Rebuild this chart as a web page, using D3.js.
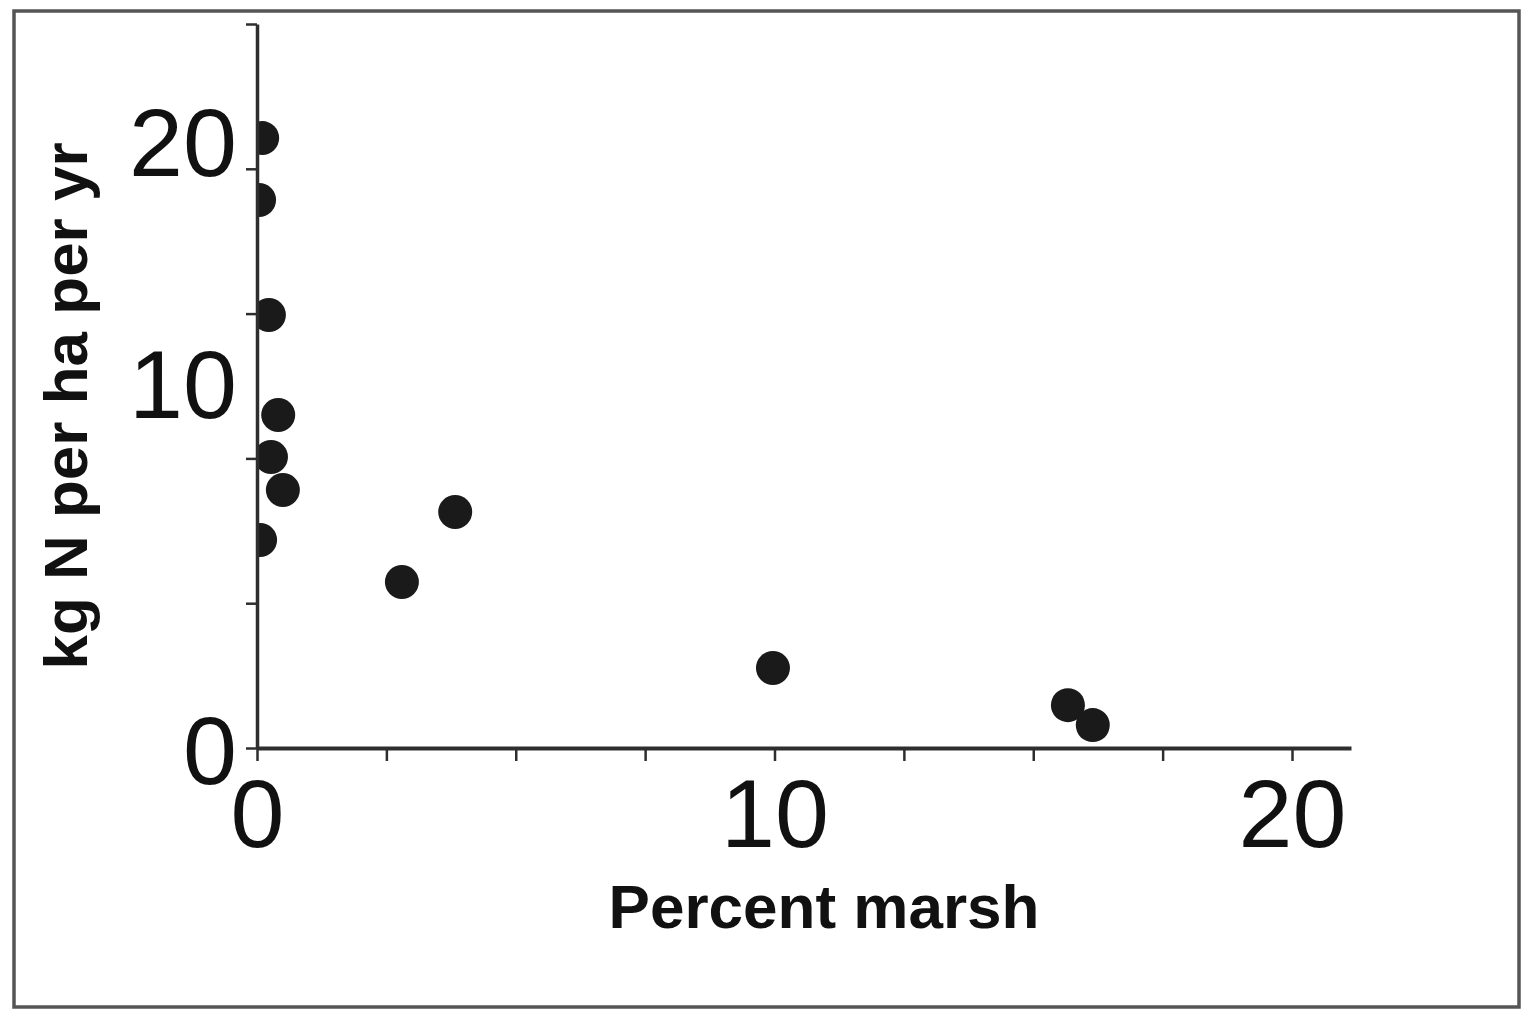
<!DOCTYPE html>
<html>
<head>
<meta charset="utf-8">
<script src="https://cdn.jsdelivr.net/npm/d3@7"></script>
<style>
  html, body { margin: 0; padding: 0; background: #fff; }
  svg { display: block; }
</style>
</head>
<body>
<svg id="chart" width="1524" height="1010"></svg>
<script>
// ---- data ----
const percentMarsh = [0.10, 0.04, 0.23, 0.41, 0.27, 0.50, 0.06, 3.83, 2.80, 9.97, 15.67, 16.15];
const kgNPerHa     = [21.06, 18.92, 14.95, 11.50, 10.05, 8.91, 7.18, 8.15, 5.73, 2.76, 1.48, 0.79];
const xTicks       = [0, 2.5, 5, 7.5, 10, 12.5, 15, 17.5, 20];
const xTickLabels  = [0, 10, 20];
const yTicks       = [0, 5, 10, 15, 20, 25];
const yTickLabels  = [0, 10, 20];
const xTitle = "Percent marsh";
const yTitle = "kg N per ha per yr";

// ---- layout / style ----
const svg = d3.select("#chart");
const X0 = 257, X1 = 1351, Y0 = 748, Y1 = 24;
const ink = "#1a1a1a";
const axisColor = "#2e2e2e";
// the reference places its y labels above their ticks
const yLabelShift = {0: 0, 10: -76, 20: -28};

const x = d3.scaleLinear().domain([0, 21.14]).range([X0, X1]);
const y = d3.scaleLinear().domain([0, 25]).range([Y0, Y1]);

// outer frame
svg.append("rect")
  .attr("x", 14).attr("y", 11).attr("width", 1505).attr("height", 996)
  .attr("fill", "none").attr("stroke", "#555").attr("stroke-width", 3.5);

// clip for points (plot area starts at the y axis)
svg.append("clipPath").attr("id", "plotClip")
  .append("rect").attr("x", X0).attr("y", 0).attr("width", X1 - X0 + 40).attr("height", Y0);

const pts = percentMarsh.map((v, i) => ({x: v, y: kgNPerHa[i]}));
svg.append("g").attr("clip-path", "url(#plotClip)")
  .selectAll("circle").data(pts).join("circle")
  .attr("cx", d => x(d.x)).attr("cy", d => y(d.y))
  .attr("r", 17).attr("fill", ink);

// x axis
const xAxis = d3.axisBottom(x).tickValues(xTicks).tickSize(13).tickSizeOuter(0)
  .tickFormat(d => xTickLabels.includes(d) ? String(d) : "");
const gx = svg.append("g").attr("transform", `translate(0,${Y0})`).call(xAxis);
gx.select(".domain").attr("stroke", axisColor).attr("stroke-width", 4);
gx.selectAll(".tick line").attr("stroke", axisColor).attr("stroke-width", 2.5);
gx.selectAll(".tick text")
  .attr("y", 99).attr("dy", 0)
  .attr("fill", "#111")
  .style("font-family", "'Liberation Sans', Arial, sans-serif")
  .style("font-size", "97px");

// y axis
const yAxis = d3.axisLeft(y).tickValues(yTicks).tickSize(11).tickSizeOuter(0).tickPadding(9)
  .tickFormat(d => yTickLabels.includes(d) ? String(d) : "");
const gy = svg.append("g").attr("transform", `translate(${X0},0)`).call(yAxis);
gy.select(".domain").attr("stroke", axisColor).attr("stroke-width", 3.5);
gy.selectAll(".tick line").attr("stroke", axisColor).attr("stroke-width", 2.5);
gy.selectAll(".tick text")
  .attr("dy", d => (yLabelShift[d] || 0) + 35)
  .attr("fill", "#111")
  .style("font-family", "'Liberation Sans', Arial, sans-serif")
  .style("font-size", "97px");

// axis titles
svg.append("text")
  .attr("x", (x(0) + x(21.14)) / 2 + 0)
  .attr("x", 824).attr("y", 928)
  .attr("text-anchor", "middle")
  .attr("fill", "#111")
  .style("font-family", "'Liberation Sans', Arial, sans-serif")
  .style("font-weight", "bold").style("font-size", "62px")
  .text(xTitle);

svg.append("text")
  .attr("transform", "translate(87,406) rotate(-90)")
  .attr("text-anchor", "middle")
  .attr("fill", "#111")
  .style("font-family", "'Liberation Sans', Arial, sans-serif")
  .style("font-weight", "bold").style("font-size", "62px")
  .text(yTitle);
</script>
</body>
</html>
